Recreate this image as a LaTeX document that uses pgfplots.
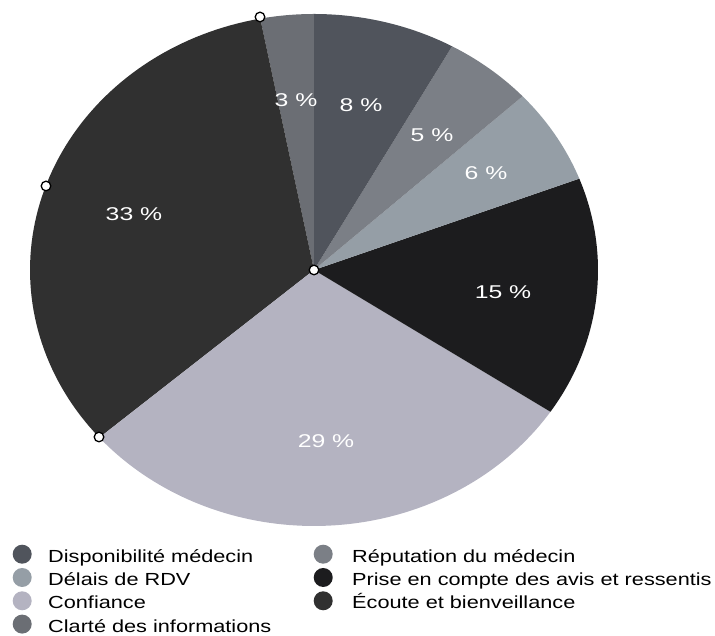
\documentclass[border=0pt]{standalone}
\usepackage{fontspec}
\setmainfont{Liberation Sans}[FakeStretch=1.24]
\newfontfamily\labfont{Liberation Sans}[FakeStretch=1.34]
\usepackage{pgfplots}
\pgfplotsset{compat=1.18}
\definecolor{cDispo}{HTML}{50545C}
\definecolor{cRepu}{HTML}{7B7F86}
\definecolor{cDelai}{HTML}{959EA6}
\definecolor{cPrise}{HTML}{1C1C1E}
\definecolor{cConf}{HTML}{B4B3C1}
\definecolor{cEcoute}{HTML}{303030}
\definecolor{cClarte}{HTML}{6B6E74}
% percentages (clockwise from top): Dispo 8, Repu 5, Delais 6, Prise 15, Confiance 29, Ecoute 33, Clarte 3
\def\pDispo{8}\def\pRepu{5}\def\pDelai{6}\def\pPrise{15}\def\pConf{29}\def\pEcoute{33}\def\pClarte{3}
\pgfmathsetmacro\tot{\pDispo+\pRepu+\pDelai+\pPrise+\pConf+\pEcoute+\pClarte}
\pgfmathsetmacro\aA{90}
\pgfmathsetmacro\aB{\aA+360*\pClarte/\tot}
\pgfmathsetmacro\aC{\aB+360*\pEcoute/\tot}
\pgfmathsetmacro\aD{\aC+360*\pConf/\tot}
\pgfmathsetmacro\aE{\aD+360*\pPrise/\tot}
\pgfmathsetmacro\aF{\aE+360*\pDelai/\tot}
\pgfmathsetmacro\aG{\aF+360*\pRepu/\tot}
\pgfmathsetmacro\aH{\aG+360*\pDispo/\tot}
\def\cx{314}\def\cy{365}\def\rx{284}\def\ry{256}
\pgfplotsset{
  base/.style={
    width=715pt, height=635pt, scale only axis,
    xmin=0, xmax=715, ymin=0, ymax=635,
    hide axis, clip=false,
    legend columns=1,
    legend cell align=left,
    legend image code/.code={\fill[##1, draw=none] (0pt,0pt) circle (9.5pt);},
    legend style={draw=none, fill=none, inner sep=0pt, anchor=north west,
      row sep=0pt, column sep=0pt,
      nodes={inner ysep=0pt, inner xsep=0pt, text height=19.65pt, text depth=3.65pt,
        font=\fontsize{17.5}{21}\selectfont},
      /tikz/every even column/.append style={column sep=0pt},
    },
  },
  slice/.style={draw=none, samples=80, forget plot},
}
\begin{document}
\begin{tikzpicture}
\begin{axis}[base, legend style={at={(axis cs:12.5,92.65)}}]
\path (axis cs:0,0) rectangle (axis cs:715,635);
\addplot[slice, fill=cClarte, domain=\aA:\aB] ({\cx+\rx*cos(x)},{\cy+\ry*sin(x)}) -- (axis cs:\cx,\cy) -- cycle;
\addplot[slice, fill=cEcoute, domain=\aB:\aC] ({\cx+\rx*cos(x)},{\cy+\ry*sin(x)}) -- (axis cs:\cx,\cy) -- cycle;
\addplot[slice, fill=cConf, domain=\aC:\aD] ({\cx+\rx*cos(x)},{\cy+\ry*sin(x)}) -- (axis cs:\cx,\cy) -- cycle;
\addplot[slice, fill=cPrise, domain=\aD:\aE] ({\cx+\rx*cos(x)},{\cy+\ry*sin(x)}) -- (axis cs:\cx,\cy) -- cycle;
\addplot[slice, fill=cDelai, domain=\aE:\aF] ({\cx+\rx*cos(x)},{\cy+\ry*sin(x)}) -- (axis cs:\cx,\cy) -- cycle;
\addplot[slice, fill=cRepu, domain=\aF:\aG] ({\cx+\rx*cos(x)},{\cy+\ry*sin(x)}) -- (axis cs:\cx,\cy) -- cycle;
\addplot[slice, fill=cDispo, domain=\aG:\aH] ({\cx+\rx*cos(x)},{\cy+\ry*sin(x)}) -- (axis cs:\cx,\cy) -- cycle;
\addplot[only marks, mark=*, mark size=4.8pt, forget plot,
  mark options={fill=white, draw=black, line width=1.3pt}]
  coordinates {(260,618) (46,449) (99,198) (314,365)};
\begin{scope}[every node/.style={text=white, font=\labfont\fontsize{18.5}{21}\selectfont}]
\node at (axis cs:296,535) {3 \%};
\node at (axis cs:361,530) {8 \%};
\node at (axis cs:432,500) {5 \%};
\node at (axis cs:486,462) {6 \%};
\node at (axis cs:503,343) {15 \%};
\node at (axis cs:326,194) {29 \%};
\node at (axis cs:134,421) {33 \%};
\end{scope}
\addlegendimage{fill=cDispo}\addlegendentry{\hspace{16.5pt}Disponibilité médecin}
\addlegendimage{fill=cDelai}\addlegendentry{\hspace{16.5pt}Délais de RDV}
\addlegendimage{fill=cConf}\addlegendentry{\hspace{16.5pt}Confiance}
\addlegendimage{fill=cClarte}\addlegendentry{\hspace{16.5pt}Clarté des informations}
\end{axis}
\begin{axis}[base, legend style={at={(axis cs:313.5,92.65)}}]
\addlegendimage{fill=cRepu}\addlegendentry{\hspace{19.5pt}Réputation du médecin}
\addlegendimage{fill=cPrise}\addlegendentry{\hspace{19.5pt}Prise en compte des avis et ressentis}
\addlegendimage{fill=cEcoute}\addlegendentry{\hspace{19.5pt}Écoute et bienveillance}
\end{axis}
\end{tikzpicture}
\end{document}
